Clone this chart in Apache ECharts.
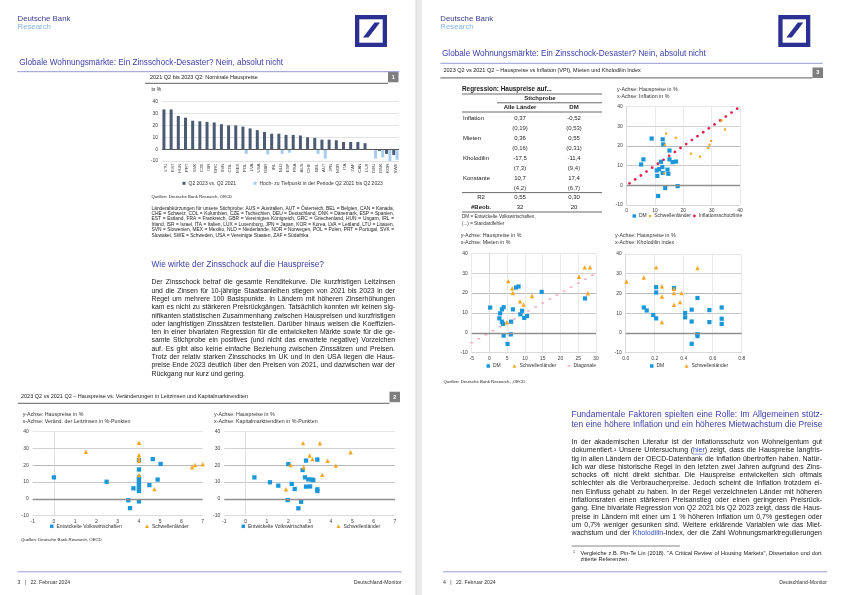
<!DOCTYPE html>
<html><head><meta charset="utf-8">
<script src="https://cdn.jsdelivr.net/npm/echarts/dist/echarts.min.js"></script>
<style>html,body{margin:0;padding:0;background:#fff}#c{width:843px;height:595px}</style>
</head><body><div id="c"></div>
<script>
// ---------------- DATA ----------------
const barCountries = ['LTU','EST','HUN','PRT','SVK','CZE','ISR','GRC','SVN','COL','MEX','POL','LVA','USA','GBR','IRL','NLD','ESP','FRA','AUS','CHE','BEL','AUT','JPN','NOR','ITA','ZAF','CAN','LUX','DEU','DNK','KOR','SWE'];
const barChange = [33.5,33.5,28,26.5,24,23.5,23,22.5,21,20,20,19,17.5,16,14.5,13,13,12,12,11.5,10,9.5,8,8,7.5,6,6,6,5,-0.3,-1.5,-4,-5];
const barPeakTrough = [0,0,-1,0,0,0,0,0,0,0,0,-4,0,0,-4.5,0,-4,-3,0,-1,0,-4,-8,0,-1,-1,-1,0,0,-8,-7,-10,-9];

const leitzinsDM = [[0,12.8],[2.48,10.2],[3.74,6.3],[3.5,-0.8],[3.58,-5.5],[4,-1.5],[4,23.1],[4,17.5],[4,12.8],[4,11.6],[4,10.2],[4,8.8],[4,7.3],[4,5.9],[4,4.7],[4.49,8.2],[4.65,23.7],[4.88,11.5],[5.02,20.8]];
const leitzinsEM = [[1.5,28.1],[4,33.4],[4,26.1],[4,24.1],[4,22.6],[4,14.2],[4.73,5.8],[6.5,18.8],[6.64,20.2],[7,20.6]];
const renditeDM = [[0.41,12.8],[1.14,9.9],[1.53,7.9],[2.0,20.7],[1.97,-0.7],[2.16,8.9],[2.3,5.9],[2.47,-5.6],[2.6,-1.7],[2.67,17.2],[2.78,12.8],[2.83,22.8],[2.83,7.3],[2.94,11.6],[3.02,7.4],[3.1,11.5],[3.17,11.2],[3.36,23.4],[3.36,5.7],[3.36,4.7]];
const renditeEM = [[1.89,5.7],[2.11,20.2],[2.69,33.2],[2.72,18.8],[3.0,25.8],[3.13,23.7],[3.48,33.1],[3.59,14.3],[3.84,22.7],[4.23,19.8],[4.92,27.8]];

const inflationDM = [[8.8,23.8],[12.7,23.4],[12.9,20.8],[15.1,17.7],[15.1,13.2],[16.2,11.8],[17.4,12.1],[12.1,12],[5.9,13.2],[5.1,10.6],[10.6,7.6],[11.4,8.2],[12.6,9.3],[14.4,8],[12.7,6.3],[14.7,5.9],[10.8,4.8],[18,-0.4],[13.6,-1.4],[11.1,-5.4]];
const inflationEM = [[13.9,26.3],[17.3,24.2],[13.5,20.6],[13.3,6.1],[22.7,16.1],[25.9,14.6],[28.8,19],[29.2,20.6],[29.8,22.6],[34.7,28.4],[33.5,33]];
const inflationLine = [[1,1],[3,3],[5,5],[7,7],[9,9],[11,11],[13,13],[15,15],[17,17],[19,19],[21,21],[23,23],[25,25],[27,27],[29,29],[31,31],[33,33],[35,35],[37,37],[39,39]];

const mietenDM = [[0.2,12.7],[3,9.8],[2.8,7.3],[3.5,11.8],[4,12.9],[3.5,5.6],[3.8,4.5],[4,-1.4],[5.1,-5.6],[6,-0.8],[6.1,5.6],[6.6,11.8],[7.5,22.8],[8.2,23.3],[8.7,9.3],[9.2,11.1],[9.8,7.5],[10.6,8.4],[14.7,20.6],[26.9,17.3]];
const mietenEM = [[5.3,26],[6.4,22.4],[6.6,20],[8.6,15.8],[9.6,14.2],[12,18.5],[4.9,5.3],[25.2,28.2],[26.8,32.9],[28.3,33],[27.7,19.9]];
const mietenDiag = [[-5,-5],[-3,-3],[-1,-1],[1,1],[3,3],[5,5],[7,7],[9,9],[11,11],[13,13],[15,15],[17,17],[19,19],[21,21],[23,23],[25,25],[27,27],[29,29]];

const kholoDM = [[0.125,12.9],[0.145,11.4],[0.19,9.1],[0.21,7.4],[0.21,23.2],[0.21,20.5],[0.333,22.8],[0.41,10.1],[0.41,7.9],[0.455,11.8],[0.455,5.8],[0.455,-5.5],[0.495,17.7],[0.495,-0.6],[0.495,-1.6],[0.577,11.6],[0.577,5.5],[0.662,12.9],[0.662,7.2],[0.662,4.6]];
const kholoEM = [[0.005,26.1],[0.125,28.1],[0.21,33.2],[0.25,23.6],[0.25,18.5],[0.25,5.5],[0.333,22.4],[0.333,20.2],[0.333,14.3],[0.375,15.6],[0.385,20.2],[0.495,32.9]];

const tableRows = [
  ['Inflation','0,37','-0,52'],['','(0,19)','(0,53)'],
  ['Mieten','0,36','0,55'],['','(0,16)','(0,31)'],
  ['Kholodilin','-17,5','-11,4'],['','(7,3)','(9,4)'],
  ['Konstante','10,7','17,4'],['','(4,2)','(6,7)']
];
const tableStats = [['R2','0,55','0,30'],['#Beob.','32','20']];

const docTitle = 'Globale Wohnungsmärkte: Ein Zinsschock-Desaster? Nein, absolut nicht';
const abbrevLines = [
 'Länderabkürzungen für unsere Stichprobe: AUS = Australien, AUT = Österreich, BEL = Belgien, CAN = Kanada,',
 'CHE = Schweiz, COL = Kolumbien, CZE = Tschechien, DEU = Deutschland, DNK = Dänemark, ESP = Spanien,',
 'EST = Estland, FRA = Frankreich, GBR = Vereinigtes Königreich, GRC = Griechenland, HUN = Ungarn, IRL =',
 'Irland, ISR = Israel, ITA = Italien, LUX = Luxemburg, JPN = Japan, KOR = Korea, LVA = Lettland, LTU = Litauen,',
 'SVN = Slowenien, MEX = Mexiko, NLD = Niederlande, NOR = Norwegen, POL = Polen, PRT = Portugal, SVK =',
 'Slowakei, SWE = Schweden, USA = Vereinigte Staaten, ZAF = Südafrika'
];
const leftBody = [
 'Der Zinsschock betraf die gesamte Renditekurve. Die kurzfristigen Leitzinsen',
 'und die Zinsen für 10-jährige Staatsanleihen stiegen von 2021 bis 2023 in der',
 'Regel um mehrere 100 Basispunkte. In Ländern mit höheren Zinserhöhungen',
 'kam es nicht zu stärkeren Preisrückgängen. Tatsächlich konnten wir keinen sig-',
 'nifikanten statistischen Zusammenhang zwischen Hauspreisen und kurzfristigen',
 'oder langfristigen Zinssätzen feststellen. Darüber hinaus weisen die Koeffizien-',
 'ten in einer bivariaten Regression für die entwickelten Märkte sowie für die ge-',
 'samte Stichprobe ein positives (und nicht das erwartete negative) Vorzeichen',
 'auf. Es gibt also keine einfache Beziehung zwischen Zinssätzen und Preisen.',
 'Trotz der relativ starken Zinsschocks im UK und in den USA liegen die Haus-',
 'preise Ende 2023 deutlich über den Preisen von 2021, und dazwischen war der',
 'Rückgang nur kurz und gering.'
];
const rightHeading = [
 'Fundamentale Faktoren spielten eine Rolle: Im Allgemeinen stütz-',
 'ten eine höhere Inflation und ein höheres Mietwachstum die Preise'
];
const rightBody = [
 'In der akademischen Literatur ist der Inflationsschutz von Wohneigentum gut',
 'dokumentiert.¹ Unsere Untersuchung (§hier§) zeigt, dass die Hauspreise langfris-',
 'tig in allen Ländern der OECD-Datenbank die Inflation übertroffen haben. Natür-',
 'lich war diese historische Regel in den letzten zwei Jahren aufgrund des Zins-',
 'schocks oft nicht direkt sichtbar. Die Hauspreise entwickelten sich oftmals',
 'schlechter als die Verbraucherpreise. Jedoch scheint die Inflation trotzdem ei-',
 'nen Einfluss gehabt zu haben. In der Regel verzeichneten Länder mit höheren',
 'Inflationsraten einen stärkeren Preisanstieg oder einen geringeren Preisrück-',
 'gang. Eine bivariate Regression von Q2 2021 bis Q2 2023 zeigt, dass die Haus-',
 'preise in Ländern mit einer um 1 % höheren Inflation um 0,7% gestiegen oder',
 'um 0,7% weniger gesunken sind. Weitere erklärende Variablen wie das Miet-',
 'wachstum und der §Kholodilin§-Index, der die Zahl Wohnungsmarktregulierungen'
];
const footnoteLines = [
 'Vergleiche z.B. Pin-Te Lin (2018). "A Critical Review of Housing Markets", Dissertation und dort',
 'zitierte Referenzen.'
];

// ---------------- HELPERS ----------------
const FONT = '"Liberation Sans", Arial, sans-serif';
const BLUE = '#3a3ea6';
const ctx = document.createElement('canvas').getContext('2d');
function measure(t, size, weight){ ctx.font = (weight||'normal') + ' ' + size + 'px ' + FONT; return ctx.measureText(t).width; }
const G = [];
function txt(x, y, t, size, o){
  o = o || {};
  G.push({type:'text', x:x, y:y, silent:true, z:10, style:{text:t, fontSize:size, fontFamily:FONT,
    fontWeight:o.weight||'normal', fill:o.color||'#1a1a1a', textAlign:o.align||'left',
    textVerticalAlign:'middle', verticalAlign:'middle'}});
}
function line(x1,y1,x2,y2,color,w){ G.push({type:'line', silent:true, z:9, shape:{x1:x1,y1:y1,x2:x2,y2:y2}, style:{stroke:color, lineWidth:w}}); }
function rect(x,y,w,h,fill){ G.push({type:'rect', silent:true, z:8, shape:{x:x,y:y,width:w,height:h}, style:{fill:fill}}); }
function drawWord(w, x, y, size, color, weight){
  const segs = w.split('§');
  let cx = x;
  segs.forEach(function(s, k){
    if(!s) return;
    const c = (k % 2 === 1) ? '#2f4fc0' : color;
    txt(cx, y, s, size, {color:c, weight:weight});
    const sw = measure(s, size, weight);
    if(k % 2 === 1 && s === 'hier') line(cx, y+size*0.55, cx+sw, y+size*0.55, '#2f4fc0', 0.5);
    cx += sw;
  });
}
function fitSize(lines, width, justifyLast, weight, maxSize){
  let s = maxSize;
  lines.forEach(function(ln, i){
    if(i === lines.length-1 && !justifyLast) return;
    const w10 = measure(ln.replace(/§/g,''), 10, weight);
    s = Math.min(s, width / w10 * 10 * 0.995);
  });
  return s;
}
function para(lines, x, y0, lh, width, maxSize, color, justifyLast, weight){
  const size = fitSize(lines, width, justifyLast, weight, maxSize);
  lines.forEach(function(ln, i){
    const y = y0 + i*lh;
    const words = ln.split(' ');
    const widths = words.map(function(w){ return measure(w.replace(/§/g,''), size, weight); });
    const sum = widths.reduce(function(a,b){return a+b;}, 0);
    let gap = measure(' ', size, weight);
    const isLast = i === lines.length-1;
    if((!isLast || justifyLast) && words.length > 1) gap = Math.max((width - sum)/(words.length-1), gap*0.6);
    let cx = x;
    words.forEach(function(w, j){ drawWord(w, cx, y, size, color, weight); cx += widths[j] + gap; });
  });
}
function logo(x, y){
  rect(x, y, 32, 32, '#2b3092');
  rect(x+4.3, y+4.3, 23.4, 23.4, '#ffffff');
  G.push({type:'polygon', silent:true, z:9, shape:{points:[[x+8,y+22.5],[x+13.5,y+22.5],[x+25,y+7.5],[x+19.5,y+7.5]]}, style:{fill:'#2b3092'}});
}
function numBox(x, y, n){ rect(x, y, 10.5, 10.5, '#7f7f7f'); txt(x+5.25, y+5.4, n, 5.5, {color:'#fff', weight:'bold', align:'center'}); }

// ---------------- PAGE FURNITURE ----------------
rect(416, 0, 6, 595, '#ebebeb');
line(416, 0, 416, 595, '#d0d0d0', 0.8);
// left page header
txt(17.5, 18.5, 'Deutsche Bank', 7.8, {color:'#3b3c92'});
txt(17.5, 27.3, 'Research', 7.8, {color:'#86b3df'});
logo(355, 15);
txt(19.3, 62.3, docTitle, 8.2, {color:BLUE});
line(17.3, 71.7, 399.3, 71.7, '#8a8fcf', 0.9);
// right page header
txt(440.3, 18.5, 'Deutsche Bank', 7.8, {color:'#3b3c92'});
txt(440.3, 27.3, 'Research', 7.8, {color:'#86b3df'});
logo(778.3, 15);
txt(442, 53.5, docTitle, 8.2, {color:BLUE});
line(440.3, 63.3, 822.7, 63.3, '#8a8fcf', 0.9);

// chart 1 block
txt(150, 77.3, '2021 Q2 bis 2023 Q2: Nominale Hauspreise', 5.5);
numBox(388, 71.8, '1');
line(145, 83.3, 388, 83.3, '#7f7f7f', 1.3);
txt(151.5, 89.5, 'in %', 5);
txt(151.5, 196.5, 'Quellen: Deutsche Bank Research, OECD', 4.3);
para(abbrevLines, 151.5, 208.3, 5.4, 242.5, 5.6, '#1a1a1a', false);
// left body
txt(151.5, 265, 'Wie wirkte der Zinsschock auf die Hauspreise?', 8.3, {color:BLUE});
para(leftBody, 151.5, 282.5, 8.3, 243.5, 7.6, '#1a1a1a', false);

// chart 2 block
txt(21, 396.8, '2023 Q2 vs 2021 Q2 – Hauspreise vs. Veränderungen in Leitzinsen und Kapitalmarktrenditen', 5.5);
numBox(389.5, 391.7, '2');
line(18, 403.3, 389.5, 403.3, '#7f7f7f', 1.3);
txt(22.7, 415, 'y-Achse: Hauspreise in %', 5.3, {color:'#333'});
txt(22.7, 422, 'x-Achse: Veränd. der Leitzinsen in %-Punkten', 5.3, {color:'#333'});
txt(214, 415, 'y-Achse: Hauspreise in %', 5.3, {color:'#333'});
txt(214, 422, 'x-Achse: Kapitalmarktrenditen in %-Punkten', 5.3, {color:'#333'});
txt(21, 540, 'Quellen: Deutsche Bank Research, OECD', 4.3);

// chart 3 block (right page)
txt(443.5, 70.8, '2023 Q2 vs 2021 Q2 – Hauspreise vs Inflation (VPI), Mieten und Kholodilin Index', 5.5);
numBox(812.5, 67.5, '3');
line(440.3, 77.8, 812.5, 77.8, '#7f7f7f', 1.3);
// table
const TL = 462, TR = 602, C1 = 520, C2 = 574;
txt(TL, 89.5, 'Regression: Hauspreise auf...', 6.4, {weight:'bold'});
line(TL, 94, TR, 94, '#444', 0.8);
txt(540, 98.5, 'Stichprobe', 6, {weight:'bold', align:'center'});
line(497, 102.8, TR, 102.8, '#444', 0.8);
txt(C1, 107.3, 'Alle Länder', 6, {weight:'bold', align:'center'});
txt(C2, 107.3, 'DM', 6, {weight:'bold', align:'center'});
line(TL, 112, TR, 112, '#444', 0.8);
tableRows.forEach(function(r, i){
  const y = 118 + i*10;
  const light = r[0] === '';
  if(r[0]) txt(TL+1, y, r[0], 6);
  txt(C1, y, r[1], 6, {align:'center', color: light ? '#333' : '#1a1a1a'});
  txt(C2, y, r[2], 6, {align:'center', color: light ? '#333' : '#1a1a1a'});
});
line(TL, 192.6, TR, 192.6, '#444', 0.8);
tableStats.forEach(function(r, i){
  const y = 197.5 + i*9.8;
  txt(481, y, r[0], 6, {align:'center', weight: i===1 ? 'bold' : 'normal'});
  txt(C1, y, r[1], 6, {align:'center'});
  txt(C2, y, r[2], 6, {align:'center'});
});
line(TL, 212, TR, 212, '#444', 0.8);
txt(TL, 216.5, 'DM = Entwickelte Volkswirtschaften,', 4.6, {color:'#333'});
txt(TL, 223.5, '(...) = Standardfehler', 4.6, {color:'#333'});
txt(617, 90, 'y-Achse: Hauspreise in %', 5.3, {color:'#333'});
txt(617, 96.8, 'x-Achse: Inflation in %', 5.3, {color:'#333'});
txt(460.7, 235.8, 'y-Achse: Hauspreise in %', 5.3, {color:'#333'});
txt(460.7, 242.5, 'x-Achse: Mieten in %', 5.3, {color:'#333'});
txt(615, 235.8, 'y-Achse: Hauspreise in %', 5.3, {color:'#333'});
txt(615, 242.5, 'x-Achse: Kholodilin index', 5.3, {color:'#333'});
txt(443.5, 382.3, 'Quellen: Deutsche Bank Research, ,OECD', 4.3);

// right text
para(rightHeading, 571.5, 414.5, 10.2, 251, 8.6, BLUE, true);
para(rightBody, 571.5, 442, 8.3, 250.5, 7.6, '#1a1a1a', true);
line(571.5, 546, 680, 546, '#333', 0.6);
txt(573, 551.5, '1', 3.6);
para(footnoteLines, 580.5, 553, 6.2, 241, 5.6, '#1a1a1a', false);

// footers
line(17.5, 571.8, 401.5, 571.8, '#8a8fcf', 0.9);
txt(17.5, 583, '3   |   22. Februar 2024', 5.2, {color:'#333'});
txt(401.5, 583, 'Deutschland-Monitor', 5.2, {color:'#333', align:'right'});
line(443, 571.8, 827, 571.8, '#8a8fcf', 0.9);
txt(443, 583, '4   |   22. Februar 2024', 5.2, {color:'#333'});
txt(827, 583, 'Deutschland-Monitor', 5.2, {color:'#333', align:'right'});

// ---------------- CHART OPTION ----------------
const grids = [
  {left:162, top:101.7, width:237, height:59.3},
  {left:32.7, top:431.7, width:170, height:84},
  {left:224.3, top:431.7, width:170.7, height:84},
  {left:626.7, top:106.7, width:113.3, height:98.3},
  {left:471.7, top:253.3, width:124.3, height:99.4},
  {left:625.7, top:254, width:116, height:98.7}
];
const lab = {fontSize:5, color:'#404040', fontFamily:FONT};
const ySplit = ['#e6e6e6','#e6e6e6','#c9c9c9','#b8b8b8','#d2d2d2','#e6e6e6'];
function yAx(gi){
  return {type:'value', gridIndex:gi, min:-10, max:40, interval:10,
    axisLabel:Object.assign({margin:4}, lab), axisTick:{show:false},
    axisLine:{show:true, lineStyle:{color:'#d6d6d6', width:0.8}},
    splitLine:{show:true, lineStyle:{color:ySplit, width:1}}};
}
function xAx(gi, min, max, interval, vsplit, fmt){
  return {type:'value', gridIndex:gi, min:min, max:max, interval:interval,
    axisLabel:Object.assign({margin:3, formatter:fmt}, lab), axisTick:{show:false},
    axisLine:{show:true, onZero:false, lineStyle:{color:'#d6d6d6', width:0.8}},
    splitLine:{show:vsplit, lineStyle:{color:'#e4e4e4', width:0.8}}};
}
const zeroLine = {silent:true, symbol:'none', label:{show:false}, animation:false,
  lineStyle:{color:'#8f8f8f', width:1.4, type:'solid'}, data:[{yAxis:0}]};
const DMC = '#1b97d9', EMC = '#f6a623';
function sc(name, data, gi, symbol, size, color, withZero){
  const s = {type:'scatter', name:name, data:data, xAxisIndex:gi, yAxisIndex:gi, symbol:symbol, symbolSize:size, itemStyle:{color:color, opacity:1}, silent:true, z:3};
  if(withZero) s.markLine = zeroLine;
  return s;
}

const legends = [];
function leg(x, y, name, icon, w, h){
  legends.push({left:x, top:y-3.2, itemWidth:w, itemHeight:h, itemGap:0, padding:0, selectedMode:false,
    textStyle:{fontSize:5, fontFamily:FONT, color:'#333', padding:[0,0,0,-2]}, data:[{name:name, icon:icon}]});
}
leg(182.5, 184, 'Q2 2023 vs. Q2 2021', 'rect', 3, 3);
leg(253.5, 184, 'Hoch- zu Tiefpunkt in der Periode Q2 2021 bis Q2 2023', 'rect', 3, 3);
leg(50, 527, 'Entwickelte Volkswirtschaften', 'rect', 3.5, 3.5);
leg(145, 527, 'Schwellenländer', 'triangle', 4, 3.5);
leg(241.5, 527, 'Entwickelte Volkswirtschaften', 'rect', 3.5, 3.5);
leg(336.5, 527, 'Schwellenländer', 'triangle', 4, 3.5);
leg(632.5, 216.7, 'DM', 'rect', 3.5, 3.5);
leg(649, 216.7, 'Schwellenländer ', 'rect', 2.2, 2.2);
leg(693, 216.7, 'Inflationsschutzlinie', 'circle', 2.8, 2.8);
leg(486.5, 366.7, 'DM', 'rect', 3.5, 3.5);
leg(512.5, 366.7, 'Schwellenländer', 'triangle', 4, 3.5);
leg(567.5, 366.7, 'Diagonale', 'rect', 3, 1.2);
leg(650, 366.7, 'DM', 'rect', 3.5, 3.5);
leg(684.5, 366.7, 'Schwellenländer', 'triangle', 4, 3.5);

const option = {
  animation:false,
  backgroundColor:'#ffffff',
  textStyle:{fontFamily:FONT},
  grid:grids,
  legend:legends,
  xAxis:[
    {type:'category', gridIndex:0, data:barCountries,
     axisLabel:{rotate:90, interval:0, fontSize:4.4, color:'#404040', fontFamily:FONT, margin:2.5},
     axisTick:{show:false}, axisLine:{show:false, onZero:false}, splitLine:{show:false}},
    xAx(1, -1, 7, 1, false),
    xAx(2, -1, 7, 1, false),
    xAx(3, 0, 40, 10, true),
    xAx(4, -5, 30, 5, true),
    xAx(5, 0, 0.8, 0.2, true, function(v){ return v.toFixed(1); })
  ],
  yAxis:[
    {type:'value', gridIndex:0, min:-10, max:40, interval:10,
     axisLabel:Object.assign({margin:4}, lab), axisTick:{show:false}, axisLine:{show:false},
     splitLine:{show:true, lineStyle:{color:'#dcdcdc', width:0.8}}},
    yAx(1), yAx(2), yAx(3), yAx(4), yAx(5)
  ],
  series:[
    {type:'bar', name:'Q2 2023 vs. Q2 2021', xAxisIndex:0, yAxisIndex:0, data:barChange, barWidth:3, barGap:'10%',
     itemStyle:{color:'#4b5b73'}, silent:true, markLine:{silent:true, symbol:'none', label:{show:false}, lineStyle:{color:'#595959', width:1.2, type:'solid'}, data:[{yAxis:0}]}},
    {type:'bar', name:'Hoch- zu Tiefpunkt in der Periode Q2 2021 bis Q2 2023', xAxisIndex:0, yAxisIndex:0, data:barPeakTrough, barWidth:3,
     itemStyle:{color:'#a9cdf0'}, silent:true},
    sc('Entwickelte Volkswirtschaften', leitzinsDM, 1, 'rect', 4.3, DMC, true),
    sc('Schwellenländer', leitzinsEM, 1, 'triangle', 4.4, EMC),
    sc('Entwickelte Volkswirtschaften', renditeDM, 2, 'rect', 4.3, DMC, true),
    sc('Schwellenländer', renditeEM, 2, 'triangle', 4.4, EMC),
    sc('Inflationsschutzlinie', inflationLine, 3, 'circle', 2.8, '#e2234e', true),
    sc('DM', inflationDM, 3, 'rect', 4.2, DMC),
    sc('Schwellenländer ', inflationEM, 3, 'rect', 2.2, EMC),
    sc('Diagonale', mietenDiag, 4, 'rect', [3,1.2], '#f29ab1', true),
    sc('DM', mietenDM, 4, 'rect', 4.2, DMC),
    sc('Schwellenländer', mietenEM, 4, 'triangle', 4.4, EMC),
    sc('DM', kholoDM, 5, 'rect', 4.2, DMC, true),
    sc('Schwellenländer', kholoEM, 5, 'triangle', 4.4, EMC)
  ],
  graphic:{elements:G}
};
const chart = echarts.init(document.getElementById('c'), null, {width:843, height:595});
chart.setOption(option);
</script>
</body></html>
